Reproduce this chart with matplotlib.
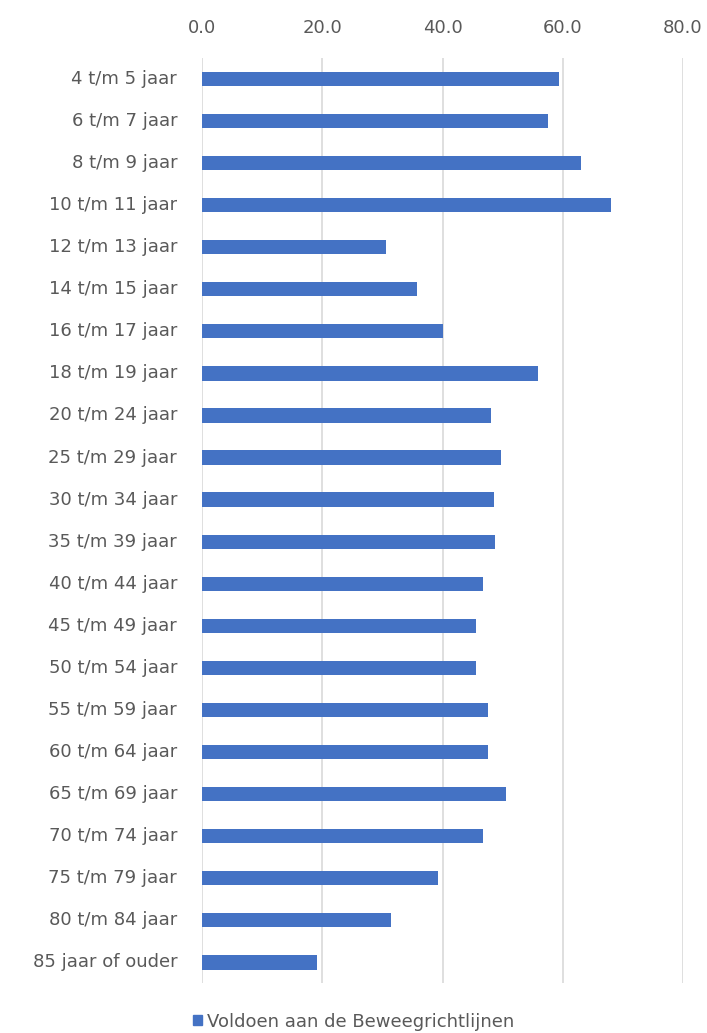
import matplotlib
matplotlib.use("Agg")
import matplotlib.pyplot as plt
from matplotlib.patches import Patch

categories = ["4 t/m 5 jaar", "6 t/m 7 jaar", "8 t/m 9 jaar", "10 t/m 11 jaar",
              "12 t/m 13 jaar", "14 t/m 15 jaar", "16 t/m 17 jaar", "18 t/m 19 jaar",
              "20 t/m 24 jaar", "25 t/m 29 jaar", "30 t/m 34 jaar", "35 t/m 39 jaar",
              "40 t/m 44 jaar", "45 t/m 49 jaar", "50 t/m 54 jaar", "55 t/m 59 jaar",
              "60 t/m 64 jaar", "65 t/m 69 jaar", "70 t/m 74 jaar", "75 t/m 79 jaar",
              "80 t/m 84 jaar", "85 jaar of ouder"]
values = [59.3, 57.5, 63.1, 68.1, 30.6, 35.7, 40.0, 55.9, 48.1, 49.8, 48.5, 48.8,
          46.8, 45.6, 45.6, 47.5, 47.5, 50.6, 46.8, 39.3, 31.4, 19.1]
series_name = "Voldoen aan de Beweegrichtlijnen"
xticks = [0, 20, 40, 60, 80]

plt.rcParams['font.family'] = ['DejaVu Sans']
text_color = "#595959"
bar_color = "#4472C4"

fig = plt.figure(figsize=(7.07, 10.33), dpi=100)
ax = fig.add_axes([0.286, 0.048, 0.680, 0.896])

y = list(range(len(categories)))
ax.barh(y, values, height=0.34, color=bar_color, zorder=3)
ax.set_ylim(len(categories) - 0.5, -0.5)
ax.set_xlim(0, 80)
ax.set_yticks(y)
ax.set_yticklabels(categories, fontsize=13, color=text_color, va='center')
ax.set_xticks(xticks)
ax.set_xticklabels([f"{t:.1f}" for t in xticks], fontsize=13, color=text_color)
ax.xaxis.tick_top()
ax.tick_params(axis='both', length=0)
ax.tick_params(axis='x', pad=15)
ax.tick_params(axis='y', pad=18)
ax.grid(axis='x', color="#D9D9D9", linewidth=1.2, zorder=0)
for s in ax.spines.values():
    s.set_visible(False)

handle = Patch(color=bar_color, label=series_name)
fig.legend(handles=[handle], loc='center', bbox_to_anchor=(0.5, 0.011),
           frameon=False, fontsize=13, handlelength=0.5, handleheight=0.5,
           handletextpad=0.3, labelcolor=text_color)

fig.savefig("out.png", dpi=100)
